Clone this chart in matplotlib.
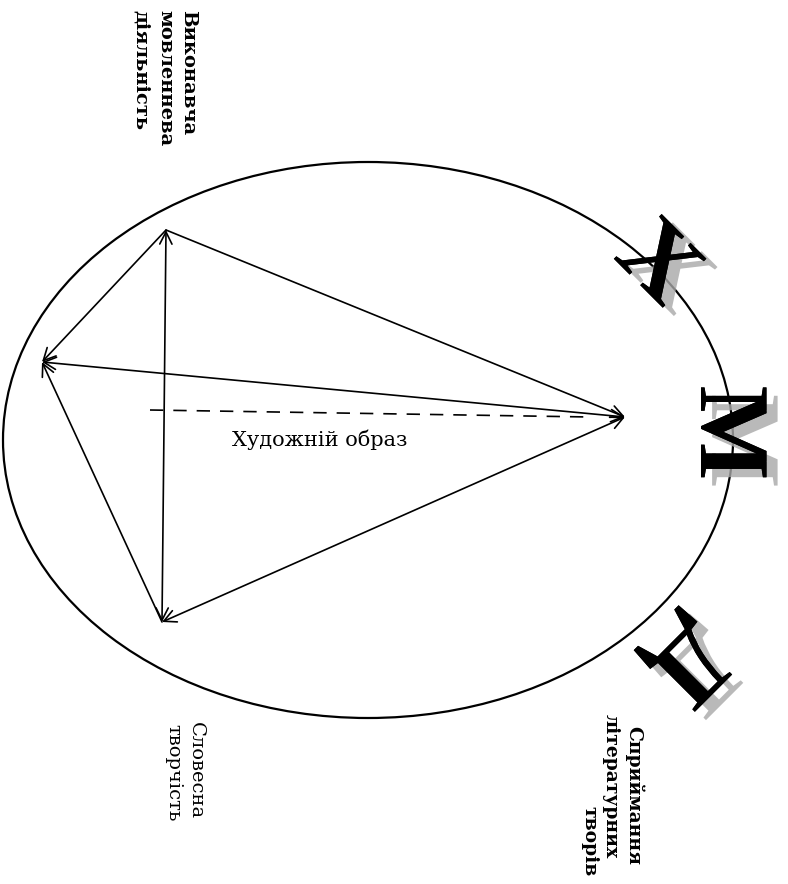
import matplotlib
matplotlib.use("Agg")
import matplotlib.pyplot as plt
import matplotlib.patheffects as pe
from matplotlib.patches import Ellipse

# Diagram nodes (pixel coords of the page, y downwards)
node_names = ["A", "B", "C", "D"]
node_x = [166, 42, 162, 625]
node_y = [230, 362, 622, 417]

# edges: (from, to, arrowstyle)
edges = [("A", "D", "->"), ("B", "D", "<->"), ("C", "D", "<->"),
         ("A", "B", "->"), ("C", "B", "->"), ("A", "C", "<->")]

labels = ["Виконавча", "мовленнева", "діяльність"]
labels_x = [188, 165, 141]
labels_y = [10, 10, 10]

labels2 = ["Сприймання", "літературних", "творів"]
labels2_x = [634, 611, 589]
labels2_y = [726, 714, 806]

labels3 = ["Словесна", "творчість"]
labels3_x = [196, 173]
labels3_y = [722, 724]

letters = ["Х", "М", "Д"]
letters_x = [655, 725, 688]
letters_y = [266, 433, 660]
letters_rot = [-45, -90, -135]

fig = plt.figure(figsize=(7.88, 8.84), dpi=100)
ax = fig.add_axes([0, 0, 1, 1])
ax.set_xlim(0, 788)
ax.set_ylim(884, 0)
ax.axis("off")

ax.add_patch(Ellipse((368, 440), 730, 556, fill=False, lw=1.6, color="black"))

pos = dict(zip(node_names, zip(node_x, node_y)))
for a, b, st in edges:
    ax.annotate("", xy=pos[b], xytext=pos[a],
                arrowprops=dict(arrowstyle=st, lw=1.2, color="black",
                                mutation_scale=22, shrinkA=0, shrinkB=0))

# dashed axis to the image centre
ax.plot([150, 590], [410, 417], ls=(0, (8, 6)), lw=1.2, color="black")
ax.text(320, 440, "Художній образ", fontsize=15, family="DejaVu Serif",
        ha="center", va="center")

for txt, x, y in zip(labels, labels_x, labels_y):
    ax.text(x, y, txt, rotation=-90, fontsize=14, fontweight="bold",
            family="DejaVu Serif", ha="center", va="top")
for txt, x, y in zip(labels2, labels2_x, labels2_y):
    ax.text(x, y, txt, rotation=-90, fontsize=13.5, fontweight="bold",
            family="DejaVu Serif", ha="center", va="top")
for txt, x, y in zip(labels3, labels3_x, labels3_y):
    ax.text(x, y, txt, rotation=-90, fontsize=14,
            family="DejaVu Serif", ha="center", va="top")

# big letters with a grey shadow
shadow = [pe.withSimplePatchShadow(offset=(8, -6), shadow_rgbFace="#a8a8a8", alpha=0.8),
          pe.Normal()]
for ch, x, y, r in zip(letters, letters_x, letters_y, letters_rot):
    ax.text(x, y, ch, rotation=r, fontsize=72, fontweight="bold",
            family="Liberation Serif", ha="center", va="center", color="black",
            path_effects=shadow)

fig.savefig("out.png", dpi=100)
